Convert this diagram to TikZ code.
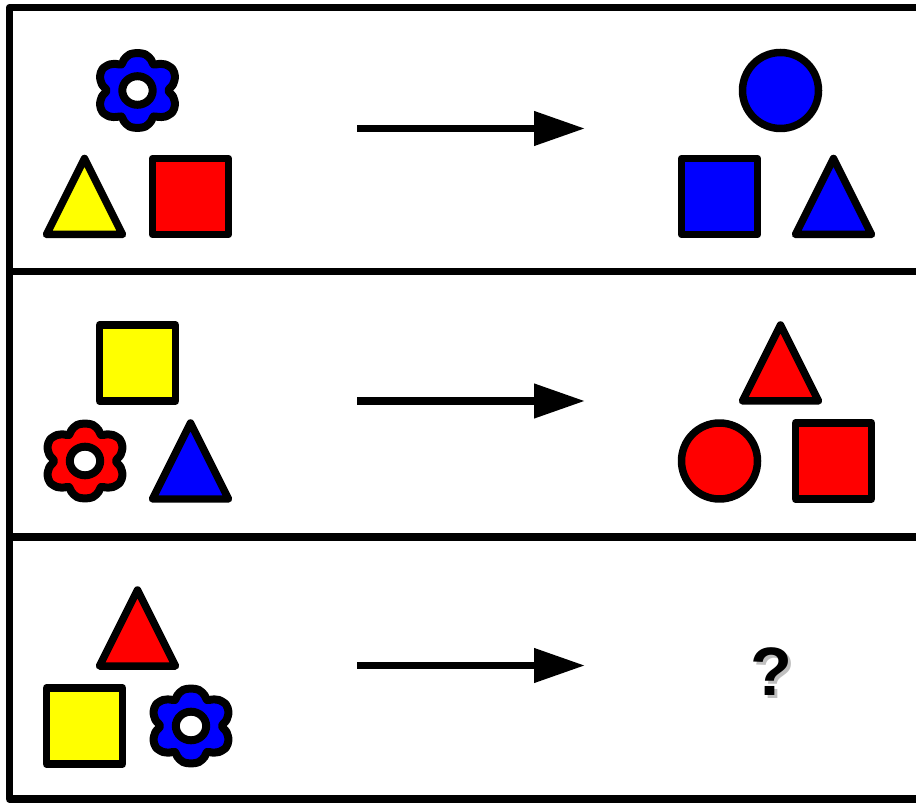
\documentclass[tikz,border=0pt]{standalone}
\usepackage{fontspec}
\setmainfont{Liberation Sans}
\usetikzlibrary{arrows.meta}
\definecolor{shblue}{RGB}{0,0,255}
\definecolor{shred}{RGB}{255,0,0}
\definecolor{shyellow}{RGB}{255,255,0}
\tikzset{
  shapeline/.style={draw=black,line width=0.15cm,line join=round},
  flowerline/.style={draw=black,line width=0.16cm,line join=round},
  framing/.style={draw=black,line width=0.15cm,line join=round},
  flowarrow/.style={draw=black,line width=0.15cm,-{Triangle[length=1.02cm,width=0.66cm]}},
  qmark/.style={font=\fontsize{39pt}{39pt}\selectfont\bfseries,inner sep=0pt},
}
\newcommand{\sqshape}[3]{\path[shapeline,fill=#3] (#1-38,#2-38) rectangle (#1+38,#2+38);}
\newcommand{\trishape}[3]{\path[shapeline,fill=#3] (#1,#2-38) -- (#1+38,#2+38) -- (#1-38,#2+38) -- cycle;}
\newcommand{\circshape}[3]{\path[shapeline,fill=#3] (#1,#2) circle [radius=38];}
\newcommand{\flowershape}[3]{%
  \begin{scope}[shift={(#1,#2)}]
  \path[flowerline,fill=#3] plot[smooth cycle,tension=0.5] coordinates {
    (0,-37.5) (8,-36) (13.5,-31) (16,-26) (21,-26.5) (28,-26) (35,-21.5) (37.5,-14) (35.5,-6) (31,0)
    (35.5,6) (37.5,14) (35,21.5) (28,26) (21,26.5) (16,26) (13.5,31) (8,36) (0,37.5)
    (-8,36) (-13.5,31) (-16,26) (-21,26.5) (-28,26) (-35,21.5) (-37.5,14) (-35.5,6) (-31,0)
    (-35.5,-6) (-37.5,-14) (-35,-21.5) (-28,-26) (-21,-26.5) (-16,-26) (-13.5,-31) (-8,-36)};
  \path[flowerline,fill=white] (0,0) ellipse [x radius=15.2, y radius=14.3];
  \end{scope}}
\begin{document}
\begin{tikzpicture}[x=0.02cm,y=-0.02cm]
\useasboundingbox (0,0) rectangle (916,803);
\clip (0,0) rectangle (916,803);
\path[fill=white] (0,0) rectangle (916,803);
% frame
\draw[framing] (916,7.5) -- (9.5,7.5) -- (9.5,799) -- (916,799);
\draw[framing] (9.5,271.5) -- (916,271.5);
\draw[framing] (9.5,537) -- (916,537);
% row 1
\flowershape{137.5}{90.5}{shblue}
\trishape{84.5}{196.5}{shyellow}
\sqshape{190.5}{196.5}{shred}
\circshape{780.5}{90.5}{shblue}
\sqshape{719.5}{196.5}{shblue}
\trishape{833.5}{196.5}{shblue}
% row 2
\sqshape{137.5}{363}{shyellow}
\flowershape{85}{461}{shred}
\trishape{190.5}{461}{shblue}
\trishape{780.5}{363}{shred}
\circshape{719.5}{461}{shred}
\sqshape{833.5}{461}{shred}
% row 3
\trishape{137.5}{628}{shred}
\sqshape{84.5}{726}{shyellow}
\flowershape{191}{726}{shblue}
% arrows
\coordinate (a1s) at (357,128.5); \coordinate (a1e) at (585,128.5);
\coordinate (a2s) at (357,401); \coordinate (a2e) at (585,401);
\coordinate (a3s) at (357,665.5); \coordinate (a3e) at (585,665.5);
\draw[flowarrow] (a1s) -- (a1e);
\draw[flowarrow] (a2s) -- (a2e);
\draw[flowarrow] (a3s) -- (a3e);
% question mark
\node[qmark,text=black!25] (qshadow) at (774.5,674.5) {?};
\node[qmark,text=black] (q) at (771.5,671.5) {?};
\end{tikzpicture}
\end{document}
